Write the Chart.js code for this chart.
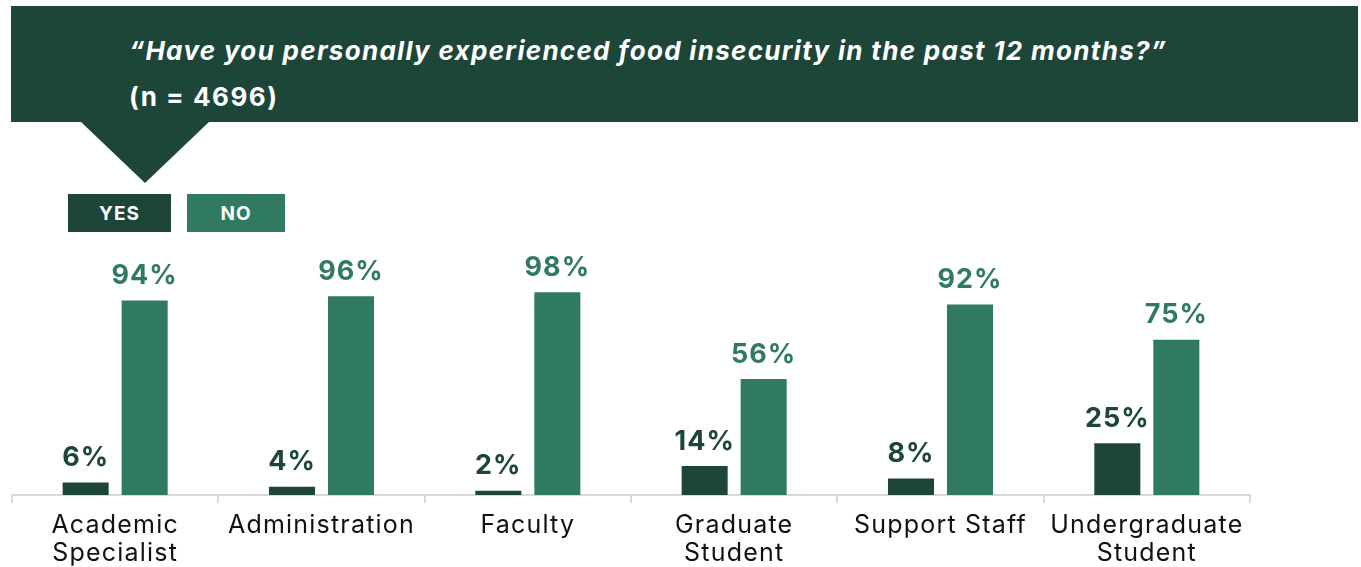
<!DOCTYPE html>
<html>
<head>
<meta charset="utf-8">
<script src="https://cdn.jsdelivr.net/npm/chart.js@4/dist/chart.umd.min.js"></script>
<style>
  html, body { margin: 0; padding: 0; background: #fff; }
  #wrap { position: relative; width: 1361px; height: 567px; overflow: hidden; font-family: "Inter", "Open Sans", sans-serif; }
  #banner { position: absolute; left: 11px; top: 6px; width: 1347px; height: 116px; background: #1d4639; }
  #banner .q { position: absolute; left: 118px; top: 29px; color: #fff; font-style: italic; font-weight: 700; font-size: 26px; letter-spacing: 1.3px; white-space: nowrap; }
  #banner .n { position: absolute; left: 118px; top: 75px; color: #fff; font-weight: 700; font-size: 26px; letter-spacing: 1.5px; white-space: nowrap; }
  #pointer { position: absolute; left: 80px; top: 121px; width: 0; height: 0; border-left: 65px solid transparent; border-right: 65px solid transparent; border-top: 62px solid #1d4639; }
  .key { position: absolute; top: 194px; height: 38px; color: #fff; font-weight: 700; font-size: 19px; letter-spacing: 1px; line-height: 40px; text-align: center; }
  #keyYes { left: 68px; width: 103px; background: #1d4639; }
  #keyNo { left: 187px; width: 98px; background: #307a62; }
  canvas { position: absolute; left: 0; top: 0; }
</style>
</head>
<body>
<div id="wrap">
  <div id="banner">
    <div class="q">“Have you personally experienced food insecurity in the past 12 months?”</div>
    <div class="n">(n = 4696)</div>
  </div>
  <div id="pointer"></div>
  <div class="key" id="keyYes">YES</div>
  <div class="key" id="keyNo">NO</div>
  <canvas id="chart" width="1361" height="567"></canvas>
</div>
<script>
const categories = [
  ["Academic", "Specialist"],
  "Administration",
  "Faculty",
  ["Graduate", "Student"],
  "Support Staff",
  ["Undergraduate", "Student"]
];
const yesValues = [6, 4, 2, 14, 8, 25];
const noValues = [94, 96, 98, 56, 92, 75];

const YES_COLOR = "#1d4639";
const NO_COLOR = "#307a62";

// Slightly open letter spacing for all canvas text
const wideText = {
  id: "wideText",
  beforeDraw(chart) { chart.ctx.letterSpacing = "1.2px"; },
  afterDraw(chart) { chart.ctx.letterSpacing = "0px"; }
};

// Percentage labels above each bar
const barValueLabels = {
  id: "barValueLabels",
  afterDatasetsDraw(chart) {
    const ctx = chart.ctx;
    ctx.save();
    ctx.font = "700 27px Inter, 'Open Sans', sans-serif";
    ctx.letterSpacing = "1px";
    ctx.textAlign = "center";
    ctx.textBaseline = "bottom";
    chart.data.datasets.forEach((ds, i) => {
      const meta = chart.getDatasetMeta(i);
      ctx.fillStyle = ds.backgroundColor;
      meta.data.forEach((bar, j) => {
        ctx.fillText(ds.data[j] + "%", bar.x, bar.y - 11);
      });
    });
    ctx.restore();
  }
};

new Chart(document.getElementById("chart"), {
  type: "bar",
  data: {
    labels: categories,
    datasets: [
      { label: "YES", data: yesValues, backgroundColor: YES_COLOR },
      { label: "NO", data: noValues, backgroundColor: NO_COLOR }
    ]
  },
  options: {
    responsive: false,
    animation: false,
    layout: { padding: { left: 12, right: 111, top: 288, bottom: 0 } },
    datasets: { bar: { categoryPercentage: 0.572, barPercentage: 0.78 } },
    plugins: {
      legend: { display: false },
      tooltip: { enabled: false }
    },
    scales: {
      x: {
        afterFit(scale) { scale.height = 72; },
        grid: { drawOnChartArea: false, drawTicks: true, tickLength: 8, color: "#d9d9d9", lineWidth: 2 },
        border: { display: true, color: "#d9d9d9", width: 2 },
        ticks: {
          color: "#111",
          padding: 9,
          maxRotation: 0,
          autoSkip: false,
          font: { family: "Inter, 'Open Sans', sans-serif", size: 25, weight: "400", lineHeight: 1.1 }
        }
      },
      y: {
        display: false,
        min: 0,
        max: 100
      }
    }
  },
  plugins: [wideText, barValueLabels]
});
</script>
</body>
</html>
